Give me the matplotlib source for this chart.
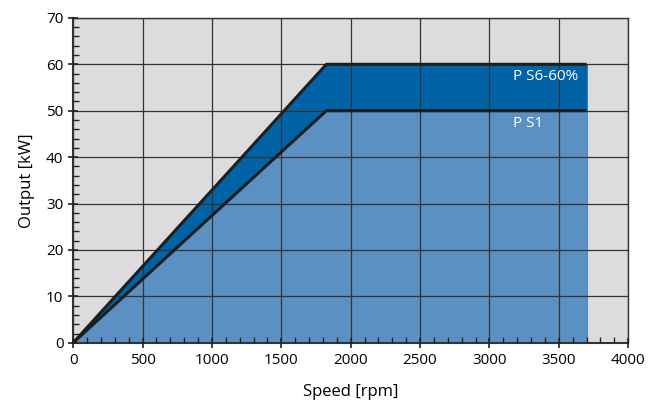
import matplotlib.pyplot as plt
import numpy as np
from matplotlib.ticker import MultipleLocator

# speed [rpm] and output [kW] corner points
speed = [0, 1825, 3700]
p_s1 = [0, 50, 50]
p_s6 = [0, 60, 60]

plt.rcParams['font.family'] = ['Open Sans', 'DejaVu Sans']

fig = plt.figure(figsize=(6.53, 4.16), dpi=100)
ax = fig.add_axes([0.112, 0.176, 0.850, 0.781])
ax.set_facecolor('#dcdcde')

ax.fill_between(speed, p_s6, color='#0063a5', zorder=1)
ax.fill_between(speed, p_s1, color='#5b90c3', zorder=1.5)
ax.plot(speed, p_s6, color='#1e1e1e', lw=2.2, zorder=3, solid_capstyle='butt')
ax.plot(speed, p_s1, color='#1e1e1e', lw=2.2, zorder=3, solid_capstyle='butt')

ax.set_xlim(0, 4000)
ax.set_ylim(0, 70)
ax.xaxis.set_major_locator(MultipleLocator(500))
ax.xaxis.set_minor_locator(MultipleLocator(100))
ax.yaxis.set_major_locator(MultipleLocator(10))
ax.yaxis.set_minor_locator(MultipleLocator(2))
ax.grid(True, which='major', color='#333333', lw=0.9, zorder=2)
ax.set_axisbelow(False)
ax.tick_params(which='major', direction='inout', length=7, width=1.2, labelsize=11, color='#222222')
ax.tick_params(which='minor', direction='in', length=4, width=1, color='#222222')
for s in ax.spines.values():
    s.set_color('#333333')
    s.set_linewidth(1)
ax.spines['left'].set_linewidth(1.5)
ax.spines['bottom'].set_linewidth(1.5)

ax.text(3170, 57.3, 'P S6-60%', color='white', fontsize=11, va='center', ha='left', zorder=4)
ax.text(3170, 47.2, 'P S1', color='white', fontsize=11, va='center', ha='left', zorder=4)

ax.set_xlabel('Speed [rpm]', fontsize=12, labelpad=12)
ax.set_ylabel('Output [kW]', fontsize=12, labelpad=8)

fig.savefig('out.png', dpi=100)
